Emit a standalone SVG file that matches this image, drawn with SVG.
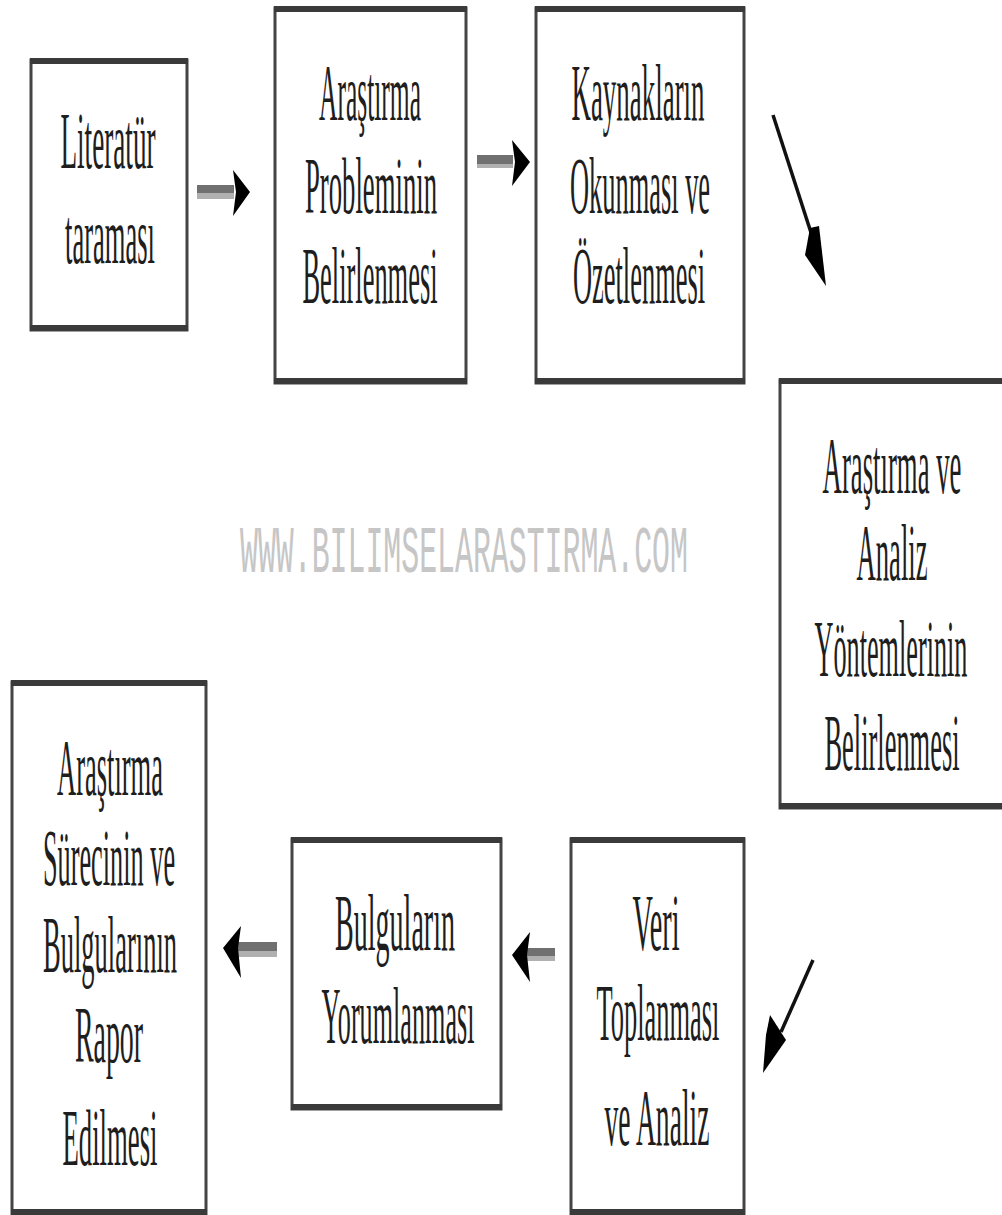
<svg xmlns="http://www.w3.org/2000/svg" width="1002" height="1215" viewBox="0 0 1002 1215">
<style>
.box{fill:#fff;stroke:#444;stroke-width:3}
.band{stroke:#3a3a3a;stroke-width:6}
.t{font-family:"Liberation Serif","DejaVu Serif",serif;font-size:80px;fill:#1e1e1e;text-anchor:middle}
.wm{font-family:"Liberation Mono","DejaVu Sans Mono",monospace;font-size:66px;fill:#c6c6c6;text-anchor:start}
.shaft{fill:#707070}
.shaftl{fill:#b0b0b0}
.head{fill:#000}
.line{stroke:#111;stroke-width:3.5;fill:none}
</style>
<rect width="1002" height="1215" fill="#fff"/>
<text class="wm" transform="translate(240,572) scale(0.44,1)" x="0" y="0" textLength="1018" lengthAdjust="spacingAndGlyphs">WWW.BILIMSELARASTIRMA.COM</text>

<g id="n1">
<rect class="box" x="31" y="60" width="156" height="270"/>
<line class="band" x1="30" y1="61" x2="188" y2="61"/><line class="band" x1="30" y1="328" x2="188" y2="328"/>
<text class="t" transform="translate(108,168) scale(0.32,1)" textLength="297" lengthAdjust="spacingAndGlyphs">Literatür</text>
<text class="t" transform="translate(110,263) scale(0.32,1)" textLength="281" lengthAdjust="spacingAndGlyphs">taraması</text>
</g>
<g id="n2">
<rect class="box" x="275" y="8" width="191" height="375"/>
<line class="band" x1="274" y1="9" x2="467" y2="9"/><line class="band" x1="274" y1="381" x2="467" y2="381"/>
<text class="t" transform="translate(370,120) scale(0.32,1)" textLength="319" lengthAdjust="spacingAndGlyphs">Araştırma</text>
<text class="t" transform="translate(371,213) scale(0.32,1)" textLength="413" lengthAdjust="spacingAndGlyphs">Probleminin</text>
<text class="t" transform="translate(370,303) scale(0.32,1)" textLength="422" lengthAdjust="spacingAndGlyphs">Belirlenmesi</text>
</g>
<g id="n3">
<rect class="box" x="536" y="8" width="208" height="375"/>
<line class="band" x1="535" y1="9" x2="745" y2="9"/><line class="band" x1="535" y1="381" x2="745" y2="381"/>
<text class="t" transform="translate(638,120) scale(0.32,1)" textLength="416" lengthAdjust="spacingAndGlyphs">Kaynakların</text>
<text class="t" transform="translate(640,213) scale(0.32,1)" textLength="438" lengthAdjust="spacingAndGlyphs">Okunması ve</text>
<text class="t" transform="translate(639,303) scale(0.32,1)" textLength="413" lengthAdjust="spacingAndGlyphs">Özetlenmesi</text>
</g>
<g id="n4">
<rect class="box" x="780" y="380" width="240" height="428"/>
<line class="band" x1="779" y1="381" x2="1002" y2="381"/><line class="band" x1="779" y1="806" x2="1002" y2="806"/>
<text class="t" transform="translate(892,493) scale(0.32,1)" textLength="434" lengthAdjust="spacingAndGlyphs">Araştırma ve</text>
<text class="t" transform="translate(892,580) scale(0.32,1)" textLength="222" lengthAdjust="spacingAndGlyphs">Analiz</text>
<text class="t" transform="translate(891,676) scale(0.32,1)" textLength="478" lengthAdjust="spacingAndGlyphs">Yöntemlerinin</text>
<text class="t" transform="translate(892,770) scale(0.32,1)" textLength="422" lengthAdjust="spacingAndGlyphs">Belirlenmesi</text>
</g>
<g id="n5">
<rect class="box" x="571" y="839" width="173" height="380"/>
<line class="band" x1="570" y1="840" x2="745" y2="840"/><line class="band" x1="570" y1="1212" x2="745" y2="1212"/>
<text class="t" transform="translate(656,950) scale(0.32,1)" textLength="147" lengthAdjust="spacingAndGlyphs">Veri</text>
<text class="t" transform="translate(658,1040) scale(0.32,1)" textLength="384" lengthAdjust="spacingAndGlyphs">Toplanması</text>
<text class="t" transform="translate(657,1145) scale(0.32,1)" textLength="328" lengthAdjust="spacingAndGlyphs">ve Analiz</text>
</g>
<g id="n6">
<rect class="box" x="292" y="839" width="209" height="270"/>
<line class="band" x1="291" y1="840" x2="502" y2="840"/><line class="band" x1="291" y1="1107" x2="502" y2="1107"/>
<text class="t" transform="translate(395,950) scale(0.32,1)" textLength="375" lengthAdjust="spacingAndGlyphs">Bulguların</text>
<text class="t" transform="translate(398,1043) scale(0.32,1)" textLength="478" lengthAdjust="spacingAndGlyphs">Yorumlanması</text>
</g>
<g id="n7">
<rect class="box" x="12" y="682" width="194" height="540"/>
<line class="band" x1="11" y1="683" x2="207" y2="683"/><line class="band" x1="11" y1="1212" x2="207" y2="1212"/>
<text class="t" transform="translate(110,795) scale(0.32,1)" textLength="331" lengthAdjust="spacingAndGlyphs">Araştırma</text>
<text class="t" transform="translate(109,885) scale(0.32,1)" textLength="413" lengthAdjust="spacingAndGlyphs">Sürecinin ve</text>
<text class="t" transform="translate(110,972) scale(0.32,1)" textLength="419" lengthAdjust="spacingAndGlyphs">Bulgularının</text>
<text class="t" transform="translate(109,1062) scale(0.32,1)" textLength="213" lengthAdjust="spacingAndGlyphs">Rapor</text>
<text class="t" transform="translate(110,1165) scale(0.32,1)" textLength="297" lengthAdjust="spacingAndGlyphs">Edilmesi</text>
</g>

<g id="connectors">
<rect class="shaft" x="197" y="185" width="37" height="8"/><rect class="shaftl" x="197" y="193" width="37" height="6"/>
<path class="head" d="M233,170 L250,192 L233,216 L236,192 Z"/>
<rect class="shaft" x="477" y="155" width="36" height="9"/><rect class="shaftl" x="477" y="164" width="36" height="4"/>
<path class="head" d="M512,140 L530,162 L512,186 L515,162 Z"/>
<line class="line" x1="773" y1="115" x2="815" y2="245"/>
<path class="head" d="M826,286 L805,255 L810,228 L819,226 Z"/>
<line class="line" x1="813" y1="960" x2="781" y2="1032"/>
<path class="head" d="M763,1073 L766,1035 L770,1015 L786,1040 Z"/>
<rect class="shaft" x="527" y="948" width="28" height="8"/><rect class="shaftl" x="527" y="956" width="28" height="5"/>
<path class="head" d="M530,932 L512,955 L530,982 L527,955 Z"/>
<rect class="shaft" x="238" y="942" width="39" height="9"/><rect class="shaftl" x="238" y="951" width="39" height="6"/>
<path class="head" d="M241,926 L223,948 L241,978 L238,948 Z"/>
</g>
</svg>
